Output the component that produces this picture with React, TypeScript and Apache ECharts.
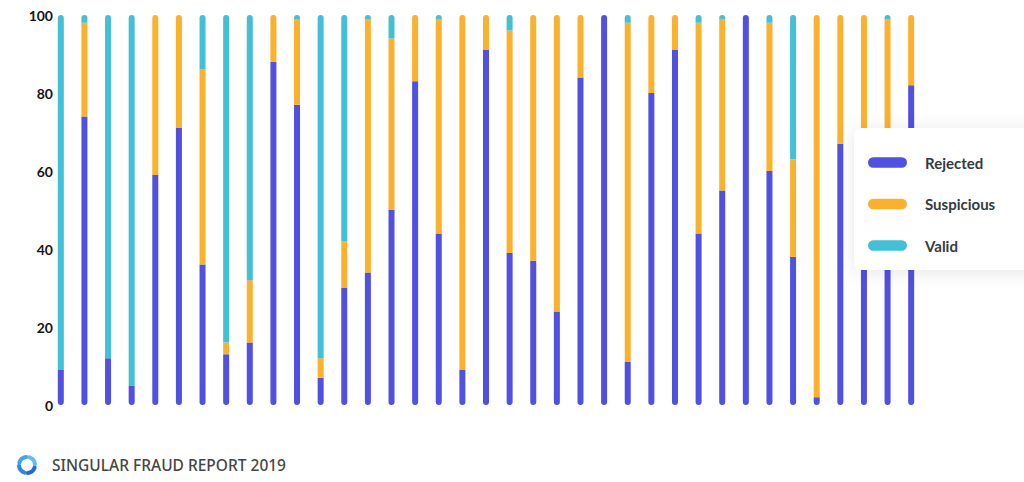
import React, { useEffect, useRef } from "react";
import * as echarts from "echarts";

const categories = [
  "1", "2", "3", "4", "5", "6", "7", "8", "9", "10", "11", "12", "13", "14", "15", "16", "17", "18", "19",
  "20", "21", "22", "23", "24", "25", "26", "27", "28", "29", "30", "31", "32", "33", "34", "35", "36", "37",
];
const rejected = [9, 74, 12, 5, 59, 71, 36, 13, 16, 88, 77, 7, 30, 34, 50, 83, 44, 9, 91, 39, 37, 24, 84, 100, 11, 80, 91, 44, 55, 100, 60, 38, 2, 67, 55, 48, 82];
const suspicious = [0, 24, 0, 0, 41, 29, 50, 3, 16, 12, 22, 5, 12, 65, 44, 17, 55, 91, 9, 57, 63, 76, 16, 0, 87, 20, 9, 54, 44, 0, 38, 25, 98, 33, 45, 51, 18];
const valid = [91, 2, 88, 95, 0, 0, 14, 84, 68, 0, 1, 88, 58, 1, 6, 0, 1, 0, 0, 4, 0, 0, 0, 0, 2, 0, 0, 2, 1, 0, 2, 37, 0, 0, 0, 1, 0];
const seriesNames = ["Rejected", "Suspicious", "Valid"];
const seriesColors = ["#5150E0", "#FBB12B", "#41C0D7"];
const yTicks = [0, 20, 40, 60, 80, 100];
const footerText = "SINGULAR FRAUD REPORT 2019";

export default function App() {
  const ref = useRef<HTMLDivElement>(null);
  useEffect(() => {
    document.body.style.margin = "0";
    const chart = echarts.init(ref.current!, null, { renderer: "svg" });
    const all = [rejected, suspicious, valid];
    const series = all.map((arr, s) => ({
      name: seriesNames[s],
      type: "bar",
      stack: "total",
      barWidth: 6,
      itemStyle: { color: seriesColors[s] },
      data: arr.map((v, i) => {
        const nonzero = all.map((a) => a[i] > 0);
        const first = nonzero.indexOf(true);
        const last = nonzero.lastIndexOf(true);
        const r = 3;
        return {
          value: v,
          itemStyle: {
            borderRadius: [s === last ? r : 0, s === last ? r : 0, s === first ? r : 0, s === first ? r : 0],
          },
        };
      }),
    }));
    const logoColors = ["#2467D6", "#2F86E4", "#3FA3EE", "#5ABFF6"];
    const logoArcs = [0, 1, 2, 3].map((k) => ({
      type: "arc",
      shape: {
        cx: 27,
        cy: 465,
        r: 8,
        startAngle: (k * Math.PI) / 2 + 0.3,
        endAngle: (k * Math.PI) / 2 + Math.PI / 2 - 0.1,
      },
      style: { stroke: logoColors[k], lineWidth: 4, fill: "none", lineCap: "round" },
    }));
    chart.setOption({
      animation: false,
      grid: { left: 49, right: 101, top: 15, height: 390 },
      xAxis: { type: "category", data: categories, show: false },
      yAxis: {
        type: "value",
        min: yTicks[0],
        max: yTicks[yTicks.length - 1],
        interval: 20,
        axisLine: { show: false },
        axisTick: { show: false },
        splitLine: { show: false },
        axisLabel: {
          margin: -4,
          color: "#151515",
          fontSize: 14,
          fontWeight: "bold",
          fontFamily: "Lato",
        },
      },
      legend: {
        orient: "vertical",
        left: 854,
        top: 128,
        data: seriesNames,
        backgroundColor: "#ffffff",
        borderRadius: 8,
        shadowBlur: 18,
        shadowColor: "rgba(0,0,0,0.10)",
        shadowOffsetY: 2,
        padding: [27, 80, 17, 14],
        itemWidth: 39,
        itemHeight: 11,
        itemGap: 26.5,
        icon: "path://M5,0 H33 A5,5 0 0 1 33,10 H5 A5,5 0 0 1 5,0 Z",
        selectedMode: false,
        textStyle: {
          color: "#333a44",
          fontSize: 15,
          fontWeight: "bold",
          fontFamily: "Lato",
          padding: [0, 0, 0, 13],
        },
      },
      graphic: [
        ...logoArcs,
        {
          type: "text",
          left: 52,
          top: 457,
          style: {
            text: footerText,
            fill: "#454545",
            fontSize: 15.5,
            fontFamily: "Noto Sans",
            fontWeight: 500,
          },
        },
      ],
      series,
    });
    return () => chart.dispose();
  }, []);
  return <div ref={ref} style={{ width: 1024, height: 482 }} />;
}
